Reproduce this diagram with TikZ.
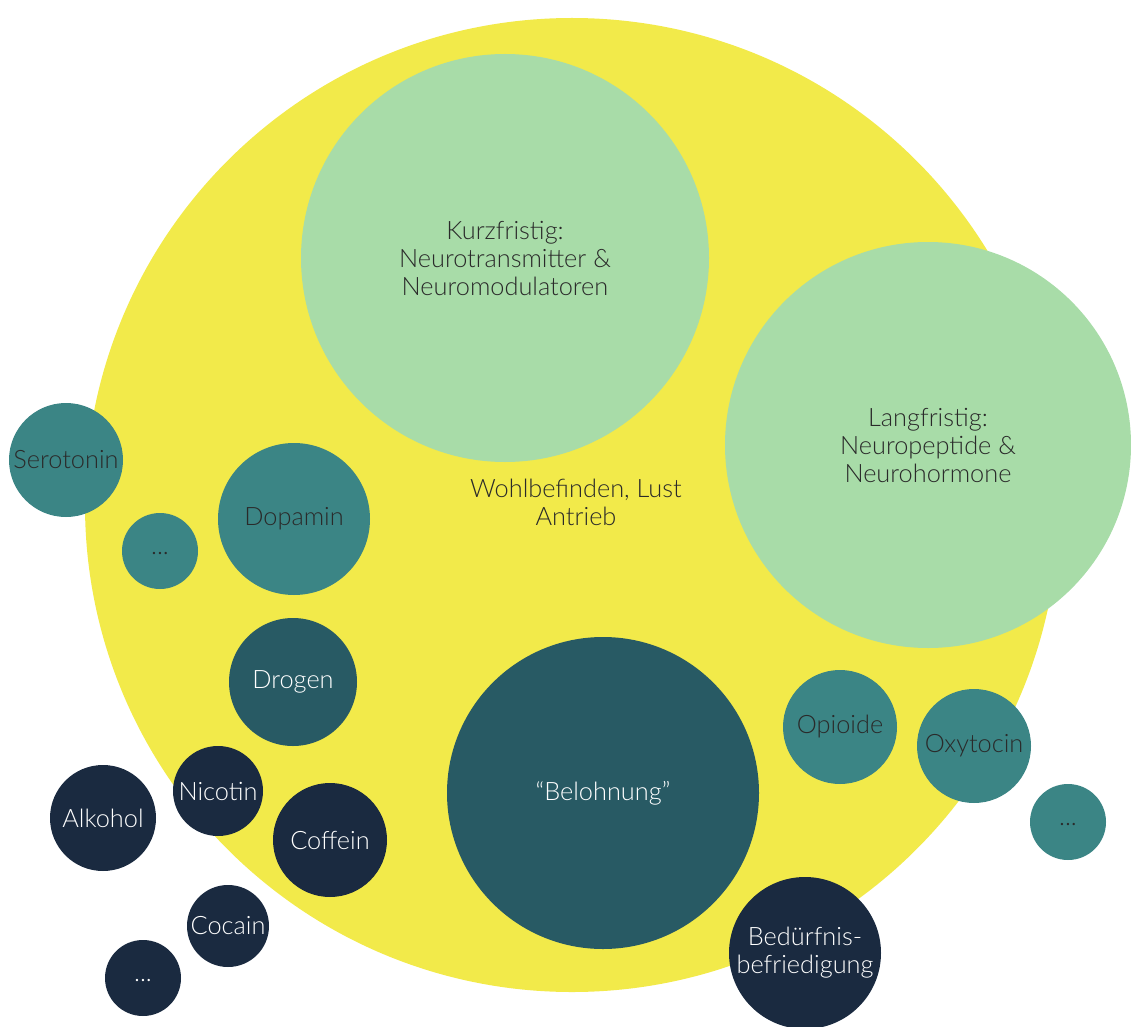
\documentclass[tikz,border=0pt]{standalone}
\usepackage{fontspec}
\setmainfont{Lato}[UprightFont={* Light}]
\definecolor{cyellow}{HTML}{F2EA4A}
\definecolor{cgreen}{HTML}{A8DCA8}
\definecolor{cteal}{HTML}{3B8585}
\definecolor{cdteal}{HTML}{285A64}
\definecolor{cnavy}{HTML}{1A2A40}
\definecolor{ctext}{HTML}{2A2A2A}
\begin{document}
\begin{tikzpicture}[x=0.75pt,y=-0.75pt,
  lbl/.style={font=\fontsize{19}{21}\selectfont},
  bub/.style={circle,minimum size=#1*0.75pt,inner sep=0pt,align=center,lbl},
  greenb/.style={bub=#1,fill=cgreen,text=ctext},
  tealb/.style={bub=#1,fill=cteal,text=ctext},
  dtealb/.style={bub=#1,fill=cdteal,text=white},
  navyb/.style={bub=#1,fill=cnavy,text=white}]
\useasboundingbox (0,0) rectangle (1131,1027);
\node[bub=974,fill=cyellow] (main) at (572,505) {};
\node[greenb=408] (kurz) at (505,258) {Kurzfristig:\\Neurotransmitter \&\\Neuromodulatoren};
\node[greenb=406] (lang) at (928,445) {Langfristig:\\Neuropeptide \&\\Neurohormone};
\node[lbl,text=ctext,align=center] (wohl) at (576,502) {Wohlbefinden, Lust\\Antrieb};
\node[tealb=114] (sero) at (66,460) {Serotonin};
\node[tealb=76] (dots1) at (160,551) {\raisebox{-5pt}{...}};
\node[tealb=152] (dopa) at (294,519) {Dopamin};
\node[dtealb=128] (drog) at (293,682) {Drogen};
\node[dtealb=312] (belo) at (603,793) {“Belohnung”};
\node[tealb=114] (opio) at (840,727) {Opioide};
\node[tealb=114] (oxy) at (974,746) {Oxytocin};
\node[tealb=76] (dots2) at (1068,822) {\raisebox{-5pt}{...}};
\node[navyb=106] (alk) at (103,818) {Alkohol};
\node[navyb=90] (nico) at (218,791) {Nicotin};
\node[navyb=114] (coff) at (330,840) {Coffein};
\node[navyb=82] (coca) at (228,926) {Cocain};
\node[navyb=76] (dots3) at (143,978) {\raisebox{-5pt}{...}};
\node[navyb=152] (bed) at (805,953) {Bedürfnis-\\befriedigung};
\end{tikzpicture}
\end{document}
